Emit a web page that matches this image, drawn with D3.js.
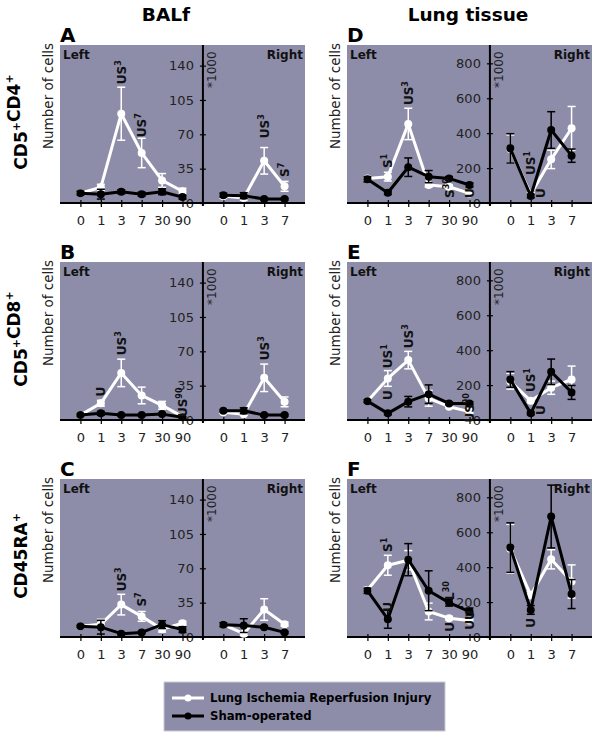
<!DOCTYPE html>
<meta charset="utf-8">
<style>
body { margin: 0; background: #fff; }
svg { font-family: "DejaVu Sans", Verdana, sans-serif; }
.tick-label { font-size: 13px; fill: #222; }
.side { font-size: 12px; font-weight: bold; fill: #111; }
.note { font-size: 12px; font-weight: bold; fill: #111; }
</style>
<body>
<script src="https://cdn.jsdelivr.net/npm/d3@7"></script>
<script>

// days on the x axis
var leftDays = ["0", "1", "3", "7", "30", "90"];
var rightDays = ["0", "1", "3", "7"];
var balfTicks = [0, 35, 70, 105, 140];
var lungTicks = [0, 200, 400, 600, 800];

// A: BALf CD5+CD4+
var liriA_L = [10, 16, 91, 51, 23, 12], liriA_Lerr = [2, 3, 27, 15, 7, 3];
var shamA_L = [10, 9, 11.5, 9, 11.5, 6], shamA_Lerr = [2, 5, 2, 2, 3, 2];
var liriA_R = [7, 5, 43, 17], liriA_Rerr = [2, 2, 13.5, 5];
var shamA_R = [8, 7.5, 4, 4], shamA_Rerr = [2, 3, 1, 1];

// B: BALf CD5+CD8+
var liriB_L = [5, 17, 48, 25, 15, 3.4], liriB_Lerr = [1, 3, 14, 8.5, 4, 1];
var shamB_L = [5, 6.8, 5, 5, 6, 2.7], shamB_Lerr = [1, 2, 1, 1, 1, 1];
var liriB_R = [8, 5.8, 43, 18.5], liriB_Rerr = [1, 1, 14, 5];
var shamB_R = [9.4, 9.4, 5, 5], shamB_Rerr = [1, 3, 1, 1];

// C: BALf CD45RA+
var liriC_L = [11, 13, 33, 21, 8, 14], liriC_Lerr = [1, 5, 10.5, 5, 3, 2];
var shamC_L = [11, 10, 3.4, 4.7, 12.6, 7.5], shamC_Lerr = [1, 7, 1, 1, 4, 3];
var liriC_R = [12.6, 3.4, 28, 13], liriC_Rerr = [1, 2, 11, 2];
var shamC_R = [12.6, 11.6, 10, 4.7], shamC_Rerr = [2, 7, 1, 1];

// D: lung tissue CD5+CD4+
var liriD_L = [141, 151, 453, 103, 93, 55], liriD_Lerr = [10, 25, 90, 12, 10, 8];
var shamD_L = [136, 59, 205, 151, 141, 103], shamD_Lerr = [15, 10, 53, 35, 10, 12];
var liriD_R = [310, 50, 250, 428], liriD_Rerr = [80, 10, 53, 125];
var shamD_R = [313, 40, 418, 271], shamD_Rerr = [84, 10, 105, 38];

// E: lung tissue CD5+CD8+
var liriE_L = [108, 238, 343, 124, 76, 48], liriE_Lerr = [8, 45, 50, 45, 8, 8];
var shamE_L = [108, 38, 105, 148, 95, 95], shamE_Lerr = [8, 8, 30, 53, 8, 8];
var liriE_R = [222, 110, 185, 232], liriE_Rerr = [45, 10, 38, 77];
var shamE_R = [232, 38, 276, 158], shamE_Rerr = [45, 8, 73, 40];

// F: lung tissue CD45RA+
var liriF_L = [269, 411, 440, 146, 108, 94], liriF_Lerr = [15, 57, 55, 48, 10, 12];
var shamF_L = [265, 102, 443, 265, 197, 146], shamF_Lerr = [15, 52, 92, 114, 20, 20];
var liriF_R = [505, 240, 445, 318], liriF_Rerr = [140, 20, 55, 95];
var shamF_R = [512, 155, 690, 246], shamF_Rerr = [142, 25, 180, 83];

// significance notes: panel, side, day, text, superscript, value where the label starts
var notes = [
  ["A", "L", "3", "US", "3", 121], ["A", "L", "7", "US", "7", 67],
  ["A", "R", "3", "US", "3", 66], ["A", "R", "7", "S", "7", 26.5],
  ["B", "L", "1", "U", "", 24], ["B", "L", "3", "US", "3", 66],
  ["B", "L", "90", "US", "90", 3], ["B", "R", "3", "US", "3", 61],
  ["C", "L", "3", "US", "3", 46.5], ["C", "L", "7", "S", "7", 31],
  ["D", "L", "1", "S", "1", 200], ["D", "L", "3", "US", "3", 561],
  ["D", "L", "30", "S", "30", 29], ["D", "L", "90", "U", "", 29],
  ["D", "R", "1", "US", "1", 160], ["D", "R", "1b", "U", "", 29],
  ["E", "L", "1", "US", "1", 297], ["E", "L", "1", "U", "", 114],
  ["E", "L", "3", "US", "3", 411], ["E", "L", "90", "US", "90", -15],
  ["E", "R", "1", "US", "1", 160], ["E", "R", "1b", "U", "", 29],
  ["F", "L", "1", "S", "1", 487], ["F", "L", "1", "U", "", 144],
  ["F", "L", "30", "L", "30", 212], ["F", "L", "30", "U", "", 30],
  ["F", "L", "90", "UU", "", 42], ["F", "R", "1", "U", "", 53]
];

var rowLabels = [["CD5", "CD4"], ["CD5", "CD8"], ["CD45RA"]];
var colTitles = ["BALf", "Lung tissue"];
var seriesNames = ["Lung Ischemia Reperfusion Injury", "Sham-operated"];

var panels = [
  {key: "A", row: 0, col: 0, lung: false, liri: [liriA_L, liriA_Lerr, liriA_R, liriA_Rerr], sham: [shamA_L, shamA_Lerr, shamA_R, shamA_Rerr]},
  {key: "B", row: 1, col: 0, lung: false, liri: [liriB_L, liriB_Lerr, liriB_R, liriB_Rerr], sham: [shamB_L, shamB_Lerr, shamB_R, shamB_Rerr]},
  {key: "C", row: 2, col: 0, lung: false, liri: [liriC_L, liriC_Lerr, liriC_R, liriC_Rerr], sham: [shamC_L, shamC_Lerr, shamC_R, shamC_Rerr]},
  {key: "D", row: 0, col: 1, lung: true, liri: [liriD_L, liriD_Lerr, liriD_R, liriD_Rerr], sham: [shamD_L, shamD_Lerr, shamD_R, shamD_Rerr]},
  {key: "E", row: 1, col: 1, lung: true, liri: [liriE_L, liriE_Lerr, liriE_R, liriE_Rerr], sham: [shamE_L, shamE_Lerr, shamE_R, shamE_Rerr]},
  {key: "F", row: 2, col: 1, lung: true, liri: [liriF_L, liriF_Lerr, liriF_R, liriF_Rerr], sham: [shamF_L, shamF_Lerr, shamF_R, shamF_Rerr]}
];

var bg = "#8d8da9";
var colX = [60, 347], rowTop = [45, 262, 479];
var W = 245, H = 158;

var svg = d3.select("body").append("svg")
    .attr("width", 600)
    .attr("height", 739);

// column titles
svg.selectAll(".coltitle")
    .data(colTitles)
  .enter().append("text")
    .attr("x", function(d, i) { return [166, 468][i]; })
    .attr("y", 21)
    .attr("text-anchor", "middle")
    .style("font-size", "18.5px")
    .style("font-weight", "bold")
    .text(function(d) { return d; });

// row labels with superscript +
rowLabels.forEach(function(parts, i) {
  var t = svg.append("text")
      .attr("transform", "translate(27," + (rowTop[i] + 77) + ") rotate(-90)")
      .attr("text-anchor", "middle")
      .style("font-size", "17px")
      .style("font-weight", "bold");
  parts.forEach(function(p) {
    t.append("tspan").attr("dy", "0").text(p);
    t.append("tspan").attr("dy", "-7").style("font-size", "11px").text("+");
    t.append("tspan").attr("dy", "7").text("");
  });
});

panels.forEach(function(p) {
  var x0 = colX[p.col], top = rowTop[p.row], bottom = top + H;
  var g = svg.append("g");

  var keys = leftDays.map(function(d) { return "L" + d; })
      .concat(["axis"])
      .concat(rightDays.map(function(d) { return "R" + d; }));
  var x = d3.scalePoint().domain(keys).range([x0, x0 + W]).padding(1);
  var y = d3.scaleLinear()
      .domain([0, p.lung ? 905 : 161])
      .range([bottom, top]);
  var ticks = p.lung ? lungTicks : balfTicks;
  var ax = x("axis");

  g.append("rect")
      .attr("x", x0).attr("y", top)
      .attr("width", W).attr("height", H)
      .attr("fill", bg);

  // panel letter
  g.append("text")
      .attr("x", x0).attr("y", top - 3)
      .style("font-size", "20px").style("font-weight", "bold")
      .text(p.key);

  g.append("text").attr("class", "side")
      .attr("x", x0 + 3).attr("y", top + 14).text("Left");
  g.append("text").attr("class", "side")
      .attr("x", x0 + W - 2).attr("y", top + 14)
      .attr("text-anchor", "end").text("Right");

  g.append("text")
      .attr("transform", "translate(" + (x0 - 7) + "," + (top + 51) + ") rotate(-90)")
      .attr("text-anchor", "middle")
      .style("font-size", "13.5px").style("fill", "#222")
      .text("Number of cells");

  g.append("text")
      .attr("transform", "translate(" + (ax + 13) + "," + (top + 43) + ") rotate(-90)")
      .style("font-size", "12px").style("fill", "#222")
      .text("*1000");

  // y axis (in the middle of the panel)
  var yAxis = g.append("g")
      .attr("transform", "translate(" + ax + ",0)")
      .call(d3.axisLeft(y).tickValues(ticks).tickSize(3).tickPadding(6));
  yAxis.select(".domain").remove();
  yAxis.selectAll(".tick line").attr("x2", 3).attr("x1", -3).attr("stroke-width", 1.2);
  yAxis.selectAll(".tick text").attr("class", "tick-label").attr("fill", null)
      .style("font-size", "13px").style("font-family", "DejaVu Sans");
  g.append("line")
      .attr("x1", ax).attr("x2", ax)
      .attr("y1", top).attr("y2", bottom + 3)
      .attr("stroke", "#000").attr("stroke-width", 2);

  // x axis
  var tickKeys = keys.filter(function(k) { return k !== "axis"; });
  var xAxis = g.append("g")
      .attr("transform", "translate(0," + bottom + ")")
      .call(d3.axisBottom(x).tickValues(tickKeys).tickSize(4).tickPadding(9)
        .tickFormat(function(k) { return k.slice(1); }));
  xAxis.select(".domain").remove();
  xAxis.selectAll(".tick line").attr("y1", -3).attr("stroke-width", 1.2);
  xAxis.selectAll(".tick text").attr("class", "tick-label").attr("fill", null)
      .style("font-size", "13px").style("font-family", "DejaVu Sans");
  g.append("line")
      .attr("x1", x0).attr("x2", x0 + W)
      .attr("y1", bottom).attr("y2", bottom)
      .attr("stroke", "#000").attr("stroke-width", 2);

  // series: white = LIRI, black = sham
  [[p.liri, "#fff"], [p.sham, "#000"]].forEach(function(s) {
    var arrs = s[0], col = s[1];
    [[arrs[0], arrs[1], leftDays, "L"], [arrs[2], arrs[3], rightDays, "R"]].forEach(function(part) {
      var pts = part[0].map(function(v, i) {
        return {x: x(part[3] + part[2][i]), v: v, e: part[1][i]};
      });
      var eb = g.append("g").selectAll("g").data(pts).enter().append("g");
      eb.append("line")
          .attr("x1", function(d) { return d.x; }).attr("x2", function(d) { return d.x; })
          .attr("y1", function(d) { return y(d.v + d.e); })
          .attr("y2", function(d) { return y(Math.max(0, d.v - d.e)); })
          .attr("stroke", col).attr("stroke-width", 1.5);
      [1, -1].forEach(function(sg) {
        eb.append("line")
            .attr("x1", function(d) { return d.x - 4; }).attr("x2", function(d) { return d.x + 4; })
            .attr("y1", function(d) { return y(Math.max(0, d.v + sg * d.e)); })
            .attr("y2", function(d) { return y(Math.max(0, d.v + sg * d.e)); })
            .attr("stroke", col).attr("stroke-width", 1.5);
      });
      g.append("path")
          .datum(pts)
          .attr("fill", "none")
          .attr("stroke", col)
          .attr("stroke-width", 3)
          .attr("stroke-linejoin", "round")
          .attr("d", d3.line().x(function(d) { return d.x; }).y(function(d) { return y(d.v); }));
      g.append("g").selectAll("circle").data(pts).enter().append("circle")
          .attr("cx", function(d) { return d.x; })
          .attr("cy", function(d) { return y(d.v); })
          .attr("r", 4)
          .attr("fill", col);
    });
  });

  // significance labels
  notes.filter(function(n) { return n[0] === p.key; }).forEach(function(n) {
    var day = n[2], shift = 0;
    if (day.slice(-1) === "b") { day = day.slice(0, -1); shift = x.step() / 2; }
    var cx = x(n[1] + day) + shift;
    var t = g.append("text").attr("class", "note")
        .attr("transform", "translate(" + cx + "," + y(n[5]) + ") rotate(-90)")
        .attr("dy", "0.37em");
    t.append("tspan").text(n[3]);
    if (n[4]) t.append("tspan").attr("dy", "-5").style("font-size", "8px").text(n[4]);
  });
});

// legend
var legend = svg.append("g");
legend.append("rect")
    .attr("x", 164).attr("y", 682)
    .attr("width", 281).attr("height", 49)
    .attr("fill", bg)
    .attr("stroke", "#c9c9d6").attr("stroke-width", 1);

var item = legend.selectAll(".item")
    .data(seriesNames)
  .enter().append("g")
    .attr("transform", function(d, i) { return "translate(0," + (698 + i * 18) + ")"; });
item.append("line")
    .attr("x1", 172).attr("x2", 204)
    .attr("stroke", function(d, i) { return i ? "#000" : "#fff"; })
    .attr("stroke-width", 3);
item.append("circle")
    .attr("cx", 188).attr("r", 3.5)
    .attr("fill", function(d, i) { return i ? "#000" : "#fff"; });
item.append("text")
    .attr("x", 210).attr("dy", "0.36em")
    .style("font-size", "11.7px").style("font-weight", "bold")
    .text(function(d) { return d; });

</script>
</body>
